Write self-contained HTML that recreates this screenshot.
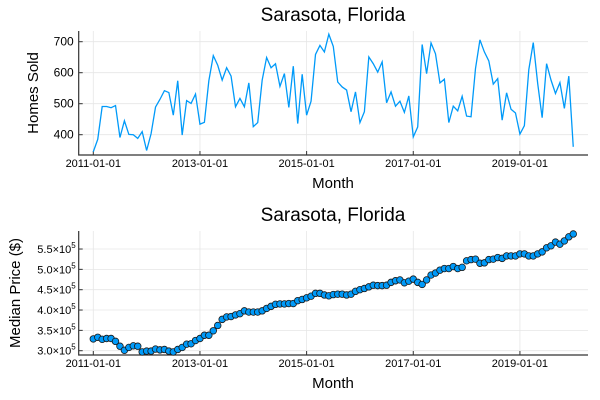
<!DOCTYPE html>
<html><head><meta charset="utf-8"><style>
body{margin:0;background:#fff;}
svg{display:block;font-family:"Liberation Sans",sans-serif;}
</style></head><body>
<svg id="chart" width="600" height="400">
<g id="top"></g>
<g id="bot"></g>
</svg>
<script>
const homesSold=[345,385,491,491,487,494,391,445,401,400,388,410,349,403,489,514,542,536,463,574,399,510,501,531,434,440,574,655,624,576,616,589,490,517,490,567,426,439,576,649,616,629,556,597,488,621,436,595,463,508,659,688,667,724,685,570,554,544,474,538,439,474,651,629,602,635,503,538,492,508,472,525,393,425,691,597,696,661,567,579,439,492,477,524,460,458,613,706,667,638,563,581,447,535,482,470,402,429,610,697,565,455,629,576,533,568,485,589,361];
const medianPrice=[3.29,3.33,3.28,3.30,3.30,3.23,3.11,3.01,3.08,3.12,3.11,2.97,2.99,2.99,3.04,3.02,3.03,2.99,2.97,3.03,3.08,3.16,3.17,3.25,3.30,3.38,3.38,3.49,3.62,3.77,3.83,3.84,3.88,3.91,3.98,3.95,3.95,3.95,3.98,4.04,4.09,4.14,4.15,4.15,4.16,4.16,4.23,4.26,4.30,4.34,4.41,4.41,4.37,4.35,4.38,4.39,4.39,4.37,4.39,4.46,4.50,4.53,4.57,4.61,4.60,4.60,4.61,4.68,4.72,4.74,4.67,4.71,4.76,4.68,4.63,4.74,4.86,4.91,4.98,5.02,5.02,5.07,5.02,5.05,5.21,5.24,5.25,5.15,5.16,5.24,5.25,5.29,5.27,5.33,5.33,5.33,5.38,5.38,5.33,5.33,5.38,5.43,5.53,5.58,5.67,5.62,5.70,5.80,5.87].map(v=>v*1e5);
const xTickMonths=[0,24,48,72,96];
const xTickLabels=["2011-01-01","2013-01-01","2015-01-01","2017-01-01","2019-01-01"];
const yTicksTop=[400,500,600,700];
const yTicksBot=[300000,350000,400000,450000,500000,550000];
const yTicksBotLabels=["3.0","3.5","4.0","4.5","5.0","5.5"];

const NS="http://www.w3.org/2000/svg";
function mk(parent,tag,attrs,text){const e=document.createElementNS(NS,tag);for(const k in attrs)e.setAttribute(k,attrs[k]);if(text!==undefined)e.textContent=text;parent.appendChild(e);return e;}
const X=i=>93.3+i*4.444;
const L=78.7,R=588;

function frame(g,top,bottom,yScale,yTicks,yLabelFn,title,ylabel,ylabX){
  xTickMonths.forEach(m=>{const l=mk(g,'line',{x1:X(m),x2:X(m),y1:top,y2:bottom,stroke:'#e6e6e6','stroke-width':0.8});
    
    });
  yTicks.forEach(v=>{const l=mk(g,'line',{x1:L,x2:R,y1:yScale(v),y2:yScale(v),stroke:'#e6e6e6','stroke-width':0.8});
    
    });
  const ax=mk(g,'path',{d:`M${L},${top}V${bottom}H${R}`,fill:'none',stroke:'#333','stroke-width':1.2});
  
  
  xTickMonths.forEach((m,k)=>{mk(g,'line',{x1:X(m),x2:X(m),y1:bottom,y2:bottom-4,stroke:'#333'});
    const t=mk(g,'text',{x:X(m),y:bottom+12,'text-anchor':'middle','font-size':11,fill:'#000'},xTickLabels[k]);
    
    });
  yTicks.forEach((v,k)=>{mk(g,'line',{x1:L,x2:L+4,y1:yScale(v),y2:yScale(v),stroke:'#333'});
    yLabelFn(g,v,k);});
  const tt=mk(g,'text',{x:333,y:top-10,'text-anchor':'middle','font-size':19,fill:'#000'},title);
  
  
  const xl=mk(g,'text',{x:333,y:bottom+33,'text-anchor':'middle','font-size':15,fill:'#000'},'Month');
  
  
  const cy=(top+bottom)/2;
  const yl=mk(g,'text',{x:ylabX,y:cy,'text-anchor':'middle','font-size':15,fill:'#000',transform:`rotate(-90 ${ylabX} ${cy})`},ylabel);
  
  
}

const gT=document.getElementById('top');
const yT=v=>134.7-(v-400)*0.31;
frame(gT,31,155,yT,yTicksTop,(g,v)=>{const t=mk(g,'text',{x:L-5,y:yT(v)+4,'text-anchor':'end','font-size':12,fill:'#000'},String(v));
  
  },'Sarasota, Florida','Homes Sold',38);
const line=mk(gT,'polyline',{points:homesSold.map((v,i)=>X(i)+','+yT(v)).join(' '),fill:'none',stroke:'#009af9','stroke-width':1.3});



const gB=document.getElementById('bot');
const yB=v=>350.7-(v-300000)*0.0004067;
frame(gB,231,355,yB,yTicksBot,(g,v,k)=>{const t=mk(g,'text',{x:L-3,y:yB(v)+4,'text-anchor':'end','font-size':11,fill:'#000'});
  
  
  mk(t,'tspan',{},yTicksBotLabels[k]+'×10');
  mk(t,'tspan',{dy:-5,'font-size':8},'5');},'Sarasota, Florida','Median Price ($)',20);
medianPrice.forEach((v,i)=>{const c=mk(gB,'circle',{cx:X(i),cy:yB(v),r:3.3,fill:'#009af9',stroke:'#1a1a1a','stroke-width':0.8});
  
  });
</script>
</body></html>
